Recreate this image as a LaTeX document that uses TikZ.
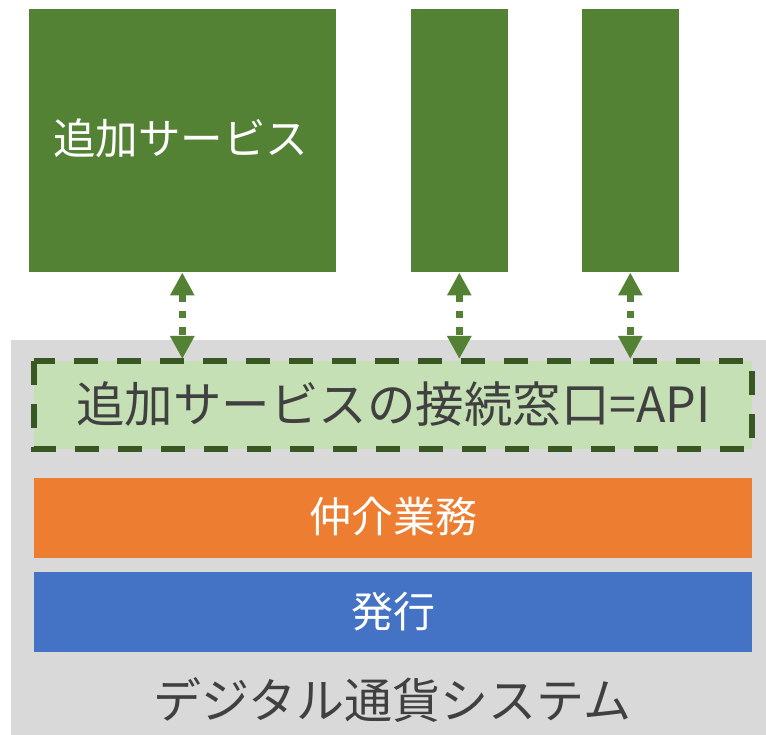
\documentclass[tikz,border=0pt]{standalone}
\usepackage{fontspec}
\setmainfont{Noto Sans CJK JP}
\usetikzlibrary{arrows.meta,positioning}
\definecolor{svcgreen}{HTML}{548235}
\definecolor{apifill}{HTML}{C5E0B4}
\definecolor{apiline}{HTML}{385723}
\definecolor{midorange}{HTML}{ED7D31}
\definecolor{issueblue}{HTML}{4472C4}
\definecolor{sysgray}{HTML}{D9D9D9}
\definecolor{txtgray}{HTML}{404040}
\tikzset{
  svcbox/.style={fill=svcgreen, draw=none, inner sep=0pt},
  layerbar/.style={draw=none, inner sep=0pt, text=white, font=\fontsize{42}{48}\selectfont},
  apibox/.style={fill=apifill, draw=apiline, line width=5.5pt, dash pattern=on 24pt off 19pt, inner sep=0pt},
  linkarrow/.style={draw=svcgreen, line width=7.5pt, dash pattern=on 7.5pt off 9pt,
    {Triangle[width=23pt,length=23pt]}-{Triangle[width=23pt,length=23pt]}, shorten <=0pt, shorten >=0pt}
}
\begin{document}
\begin{tikzpicture}[x=1pt,y=-1pt]
\useasboundingbox (0,0) rectangle (766,735);
% system background
\fill[sysgray] (11,340) rectangle (766,735);
% service boxes
\fill[svcgreen] (29,9) rectangle (335.5,272.5);
\fill[svcgreen] (411,9) rectangle (507.5,272.5);
\fill[svcgreen] (581.5,9) rectangle (679,272.5);
\coordinate (s1) at (182.3,272.5);
\coordinate (s2) at (459.3,272.5);
\coordinate (s3) at (630.3,272.5);
\node[text=white, font=\fontsize{42.5}{48}\selectfont] (svc) at (180.5,138) {追加サービス};
% API box
\draw[apibox] (34,361) rectangle (752,449);
\coordinate (a1) at (182.3,359);
\coordinate (a2) at (459.3,359);
\coordinate (a3) at (630.3,359);
\node[text=txtgray, font=\fontsize{48.5}{54}\selectfont] (api) at (393.5,404) {追加サービスの接続窓口=API};
% arrows
\draw[linkarrow] (s1) -- (a1);
\draw[linkarrow] (s2) -- (a2);
\draw[linkarrow] (s3) -- (a3);
% layers
\fill[midorange] (34,478) rectangle (752,558);
\node[layerbar] (broker) at (393.5,517) {仲介業務};
\fill[issueblue] (34,572) rectangle (752,652);
\node[layerbar] (issue) at (393,612) {発行};
\node[text=txtgray, font=\fontsize{48}{55}\selectfont] (sys) at (392.5,700) {デジタル通貨システム};
\end{tikzpicture}
\end{document}
